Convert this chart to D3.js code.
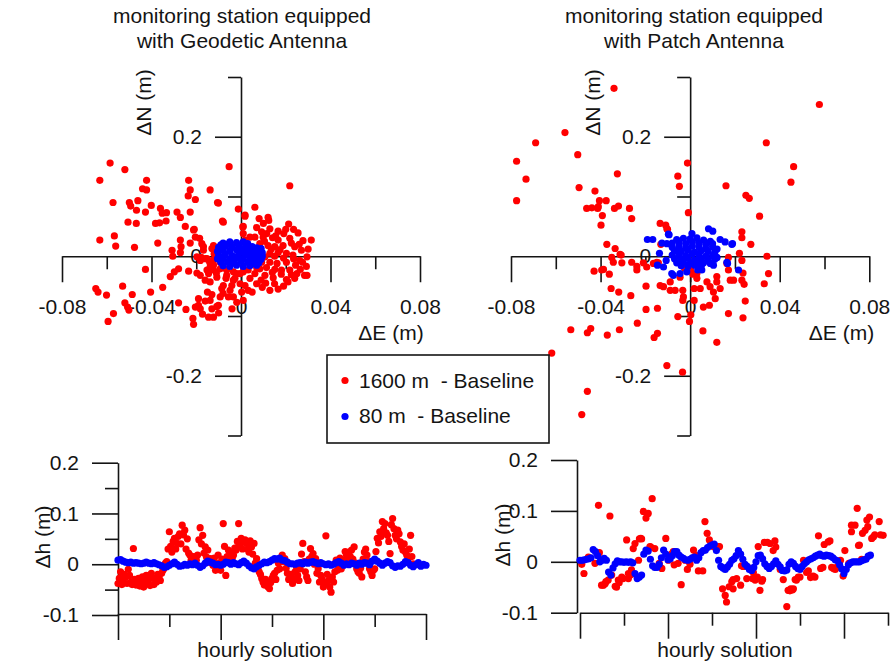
<!DOCTYPE html>
<html>
<head>
<meta charset="utf-8">
<script src="https://cdn.jsdelivr.net/npm/d3@7"></script>
<style>
  body { margin: 0; background: #fff; }
  svg text { font-family: "Liberation Sans", Arial, sans-serif; fill: #141414; }
</style>
</head>
<body>
<svg id="chart" width="892" height="665"></svg>
<script>
// ---------- axis ticks ----------
const enMajor = [-0.08, -0.04, 0, 0.04, 0.08];
const enMinor = [-0.06, -0.02, 0.02, 0.06];
const nMajor = [-0.2, 0, 0.2];
const nMinor = [-0.3, -0.1, 0.1, 0.3];
const dhMajor = [-0.1, 0, 0.1, 0.2];
const dhMinor = [-0.05, 0.05, 0.15];
const hourMajorGeo = [0, 200, 400, 600];
const hourMinorGeo = [100, 300, 500];
const hourMajorPatch = [0, 200, 400, 600];
const hourMinorPatch = [100, 300, 500, 700];

// ---------- titles / labels ----------
const titles = [
  ["monitoring station equipped", "with Geodetic Antenna"],
  ["monitoring station equipped", "with Patch Antenna"]
];
const legendLabels = ["1600 m  - Baseline", "80 m  - Baseline"];

// ---------- planimetric offsets [ΔE, ΔN] (m), geodetic antenna ----------
const geodeticRed = [
  [-0.0585,0.156],[-0.0519,0.145],[-0.0631,0.127],[-0.0422,0.127],[-0.0234,0.127],[-0.0053,0.150],[-0.0440,0.113],[-0.0422,0.111],[-0.0227,0.111],[-0.0138,0.111],
  [-0.0572,0.090],[-0.0499,0.090],[-0.0461,0.093],[-0.0401,0.085],[-0.0493,0.084],[-0.0467,0.077],[-0.0427,0.074],[-0.0360,0.080],[-0.0352,0.072],[-0.0333,0.073],
  [-0.0236,0.101],[-0.0204,0.095],[-0.0227,0.074],[-0.0286,0.074],[-0.0271,0.065],[-0.0105,0.090],[-0.0012,0.079],[-0.0505,0.057],[-0.0468,0.055],[-0.0382,0.055],
  [-0.0364,0.056],[-0.0335,0.059],[-0.0249,0.050],[-0.0209,0.045],[-0.0083,0.059],[0.0018,0.067],[0.0008,0.049],[-0.0631,0.027],[-0.0566,0.034],[-0.0560,0.017],
  [-0.0476,0.015],[-0.0372,0.022],[-0.0271,0.027],[-0.0268,0.016],[-0.0227,0.022],[-0.0185,0.030],[-0.0168,0.016],[-0.0130,0.013],[-0.0308,0.010],[-0.0305,0.000],
  [-0.0271,0.006],[-0.0178,-0.002],[-0.0152,-0.004],[-0.0123,-0.006],[-0.0427,-0.022],[-0.0316,-0.034],[-0.0298,-0.026],[-0.0279,-0.021],[-0.0234,-0.025],[-0.0197,-0.028],
  [-0.0145,-0.029],[-0.0123,-0.023],[-0.0093,-0.021],[-0.0649,-0.054],[-0.0639,-0.060],[-0.0601,-0.065],[-0.0529,-0.050],[-0.0486,-0.064],[-0.0404,-0.060],[-0.0350,-0.052],
  [-0.0519,-0.078],[-0.0507,-0.085],[-0.0570,-0.096],[-0.0594,-0.109],[-0.0279,-0.078],[-0.0246,-0.089],[-0.0204,-0.085],[-0.0190,-0.071],[-0.0215,-0.104],[-0.0212,-0.114],
  [-0.0172,-0.097],[-0.0145,-0.102],[-0.0123,-0.102],[-0.0130,-0.064],[-0.0101,-0.082],[-0.0093,-0.068],[-0.0056,-0.068],[-0.0034,-0.068],[-0.0019,-0.077],[-0.0079,-0.049],
  [-0.0067,-0.037],[-0.0041,-0.049],[-0.0027,-0.037],[-0.0004,-0.046],[0.0003,-0.060],[-0.0138,-0.043],[-0.0108,-0.035],[-0.0123,-0.015],[-0.0093,-0.010],[-0.0064,-0.023],
  [-0.0034,-0.026],[-0.0004,-0.029],[-0.0501,-0.090],[-0.0182,-0.088],[-0.0108,-0.084],
  [-0.0160,-0.040],[-0.0080,-0.062],[-0.0040,-0.088],[-0.0160,-0.075],[-0.0100,-0.095],[-0.0120,0.004],[-0.0140,-0.010],[-0.0110,-0.028],
  [0.0062,0.082],[0.0018,0.069],[0.0081,0.063],[0.0124,0.060],[0.0010,0.050],[0.0070,0.048],[0.0129,0.046],[0.0213,0.054],[0.0166,0.042],[0.0191,0.038],
  [0.0255,0.039],[0.0314,0.027],[0.0277,0.026],[0.0218,0.030],[0.0141,0.031],[0.0084,0.021],[0.0121,0.018],[0.0151,0.016],[0.0188,0.018],[0.0240,0.016],
  [0.0270,0.010],[0.0295,-0.001],[0.0262,-0.007],[0.0232,0.002],[0.0203,0.005],[0.0166,0.006],[0.0129,0.005],[0.0107,-0.001],[0.0129,-0.010],[0.0161,-0.012],
  [0.0203,-0.010],[0.0244,-0.015],[0.0292,-0.017],[0.0295,-0.032],[0.0250,-0.029],[0.0218,-0.023],[0.0181,-0.023],[0.0151,-0.022],[0.0114,-0.019],[0.0084,-0.021],
  [0.0107,-0.032],[0.0144,-0.036],[0.0203,-0.039],[0.0240,-0.037],[0.0284,-0.032],[0.0129,-0.057],[0.0166,-0.055],[0.0210,-0.043],[0.0062,-0.029],[0.0040,-0.037],
  [0.0018,-0.049],[0.0070,-0.046],[0.0032,-0.057],[-0.0034,-0.040],[-0.0064,-0.032],[-0.0138,-0.018],[-0.0079,-0.019],[-0.0019,-0.029],[0.0010,-0.026],[0.0032,-0.023],
  [0.0070,-0.019],[0.0092,-0.010],[-0.0086,-0.054],[-0.0049,-0.057],[0.0010,-0.074],[-0.0190,-0.082],[-0.0138,-0.074],[-0.0130,-0.088],[-0.0150,-0.060],[-0.0182,-0.032],
  [-0.0152,-0.023],[-0.0160,-0.004],[-0.0182,-0.007],[-0.0197,-0.001],[-0.0108,0.010],[-0.0123,0.018],[-0.0086,0.013],[-0.0168,0.010],[-0.0175,0.021],[-0.0212,0.044],
  [-0.0204,0.032],[0.0010,0.038],[0.0018,0.027],[0.0040,0.032],[0.0062,0.032],[0.0099,0.032],[0.0092,0.041],[0.0166,0.027],[-0.0079,0.057],[-0.0101,0.089],
  [0.0218,0.118],[0.0121,0.065],
  [0.0105,0.025],[0.0135,0.012],[0.0175,0.011],[0.0225,0.022],[0.0260,0.020],[0.0300,0.012],[0.0150,0.000],[0.0190,-0.003],[0.0235,-0.004],[0.0275,-0.010],
  [0.0140,-0.027],[0.0180,-0.030],[0.0225,-0.031],[0.0265,-0.022],[0.0110,-0.045],[0.0150,-0.046],[0.0190,-0.050],[0.0090,-0.040],[0.0050,-0.060],[0.0095,-0.052],
  [0.0115,0.038],[0.0155,0.034],[0.0200,0.045],[0.0235,0.045],[0.0100,0.055]
];
const geodeticBlue = [
  [-0.008,0.022],[-0.005,0.024],[-0.002,0.023],[0.001,0.024],[0.003,0.021],[-0.006,0.020],[-0.009,0.019],
  [-0.010,0.015],[-0.007,0.017],[-0.004,0.016],[-0.001,0.018],[0.002,0.015],[0.005,0.016],[0.007,0.014],[0.009,0.013],
  [-0.0105,0.008],[-0.008,0.010],[-0.005,0.009],[-0.002,0.011],[0.001,0.008],[0.004,0.010],[0.006,0.008],[0.008,0.009],[0.0095,0.006],[0.000,0.013],
  [-0.010,0.002],[-0.007,0.003],[-0.004,0.001],[-0.001,0.004],[0.002,0.002],[0.005,0.003],[0.007,0.001],[0.0095,0.000],[0.003,0.006],
  [-0.0105,-0.004],[-0.008,-0.003],[-0.005,-0.005],[-0.002,-0.002],[0.001,-0.004],[0.004,-0.003],[0.006,-0.006],[0.009,-0.005],[-0.003,-0.006],
  [-0.009,-0.010],[-0.006,-0.009],[-0.003,-0.011],[0.000,-0.008],[0.003,-0.010],[0.005,-0.012],[0.008,-0.011],
  [-0.008,-0.016],[-0.005,-0.017],[-0.002,-0.015],[0.001,-0.017],[0.004,-0.016],[0.007,-0.015]
];

// ---------- planimetric offsets [ΔE, ΔN] (m), patch antenna ----------
const patchRed = [
  [-0.0340,0.281],[-0.0559,0.207],[-0.0690,0.190],[-0.0775,0.159],[-0.0733,0.129],[-0.0775,0.093],[-0.0502,0.170],[-0.0325,0.138],[-0.0496,0.115],[-0.0425,0.109],
  [-0.0405,0.093],[-0.0375,0.093],[-0.0462,0.080],[-0.0439,0.081],[-0.0413,0.080],[-0.0392,0.068],[-0.0398,0.052],[-0.0338,0.080],[-0.0320,0.084],[-0.0271,0.080],
  [-0.0261,0.063],[-0.0012,0.156],[-0.0055,0.134],[-0.0048,0.117],[-0.0008,0.073],[-0.0134,0.055],[-0.0109,0.052],[-0.0372,0.020],[-0.0308,0.002],[-0.0350,-0.002],
  [-0.0343,-0.010],[-0.0305,-0.011],[-0.0261,-0.010],[-0.0209,-0.011],[-0.0387,-0.022],[-0.0142,-0.011],
  [0.0577,0.254],[0.0340,0.190],[0.0462,0.150],[0.0450,0.124],[0.0160,0.118],[0.0249,0.102],[0.0264,0.097],[0.0310,0.067],
  [-0.0335,0.013],[-0.0313,0.003],[-0.0238,-0.017],[-0.0238,-0.023],[-0.0194,-0.018],[-0.0164,-0.012],[-0.0149,-0.010],[-0.0429,-0.025],[-0.0395,-0.023],[-0.0361,-0.030],
  [-0.0353,-0.054],[-0.0319,-0.060],[-0.0265,-0.066],[-0.0197,-0.050],[-0.0134,-0.049],[-0.0119,-0.051],[-0.0089,-0.043],[-0.0045,-0.035],[-0.0067,-0.057],[-0.0033,-0.057],
  [-0.0089,-0.057],[-0.0030,-0.068],[-0.0131,0.020],[-0.0104,0.046],[0.0012,-0.030],[0.0030,-0.037],[0.0018,-0.054],[0.0045,-0.054],[0.0018,-0.074],[0.0059,-0.085],
  [0.0086,-0.082],[0.0075,-0.043],[0.0089,-0.051],[0.0104,-0.060],[0.0112,-0.071],[0.0134,-0.054],[0.0119,-0.034],[0.0119,-0.043],[0.0171,-0.023],[0.0179,-0.040],
  [0.0194,-0.040],[0.0231,-0.040],[0.0241,-0.047],[0.0236,-0.028],[0.0164,-0.012],[0.0171,-0.002],[0.0220,0.005],[0.0231,-0.007],[0.0231,0.041],[0.0231,0.031],
  [0.0271,0.020],[0.0343,0.000],[0.0350,-0.029],[0.0331,-0.046],[0.0246,-0.075],[0.0236,-0.103],[0.0171,-0.096],[0.0119,-0.144],[0.0057,-0.125],[0.0003,-0.098],
  [-0.0003,-0.109],[-0.0055,-0.101],[-0.0033,-0.074],[-0.0197,-0.089],[-0.0146,-0.087],[-0.0236,-0.112],[-0.0316,-0.123],[-0.0370,-0.132],[-0.0444,-0.121],[-0.0459,-0.128],
  [-0.0533,-0.123],[-0.0146,-0.129],[-0.0161,-0.136],[-0.0618,-0.162],[-0.0459,-0.226],[-0.0484,-0.265],[-0.0104,-0.183],[-0.0034,-0.194],[-0.0410,0.083],[-0.0101,0.045],
  [0.0003,-0.023],[0.0030,-0.029],[-0.0025,-0.020]
];
const patchBlue = [
  [-0.0191,0.028],[-0.0167,0.028],[0.0082,0.046],[0.0101,0.042],[0.0008,0.038],[-0.0097,0.037],[0.0186,0.020],[0.0156,0.024],[0.0134,0.028],[0.0216,-0.023],
  [0.0167,-0.012],[-0.0075,-0.032],[-0.0045,-0.029],[0.0052,-0.023],[-0.0137,0.005],[-0.0146,-0.015],[-0.0119,-0.018],[-0.0126,0.022],[-0.0107,-0.007],[-0.0094,0.036],
  [-0.0082,-0.029],[0.0189,0.021],[0.0164,-0.010],[0.0034,-0.023],[0.0104,-0.015],[-0.0015,-0.026],[-0.0104,0.021],
  [-0.006,0.028],[-0.003,0.030],[0.000,0.029],[0.003,0.031],[0.006,0.027],[0.009,0.025],
  [-0.008,0.022],[-0.005,0.023],[-0.002,0.021],[0.001,0.024],[0.004,0.022],[0.007,0.020],[0.010,0.021],
  [-0.008,0.015],[-0.005,0.016],[-0.002,0.014],[0.001,0.017],[0.004,0.015],[0.007,0.013],[0.010,0.016],[0.012,0.012],
  [-0.007,0.009],[-0.004,0.008],[-0.001,0.010],[0.002,0.007],[0.005,0.009],[0.008,0.008],[0.011,0.006],
  [-0.008,0.002],[-0.005,0.003],[-0.002,0.001],[0.001,0.004],[0.004,0.002],[0.007,0.000],[0.010,0.001],[0.012,-0.002],
  [-0.007,-0.004],[-0.004,-0.005],[-0.001,-0.003],[0.002,-0.006],[0.005,-0.004],[0.008,-0.007],[0.011,-0.005],
  [-0.006,-0.011],[-0.003,-0.010],[0.000,-0.012],[0.003,-0.009],[0.006,-0.011],[0.009,-0.012],
  [-0.004,-0.016],[-0.001,-0.017],[0.002,-0.015],[0.005,-0.016]
];

// ---------- height offsets Δh (m) per hourly solution ----------
// geodetic antenna, 1600 m baseline: one value every 2.5 hours
const geodeticRedDh = [
  -0.038,-0.028,-0.015,-0.040,-0.030,-0.020,-0.025,-0.038,-0.010,-0.022,-0.035,-0.040,
  0.031,-0.030,-0.041,-0.033,-0.028,-0.043,-0.035,-0.025,-0.045,-0.038,-0.022,-0.032,
  -0.030,-0.042,-0.018,-0.027,-0.040,-0.030,-0.035,-0.020,-0.025,-0.032,-0.018,-0.012,
  -0.008,0.002,
  0.005,0.030,0.064,0.035,0.024,0.045,0.051,0.030,0.041,0.055,0.060,0.040,0.077,0.058,
  0.067,0.030,0.050,0.022,0.018,0.008,0.011,0.015,0.001,0.008,
  0.018,0.048,0.072,0.040,0.057,0.022,0.034,0.014,0.028,0.004,
  0.011,0.006,-0.002,0.012,-0.012,-0.005,0.018,0.002,-0.012,0.010,
  0.080,0.035,-0.022,0.015,0.028,0.025,0.021,0.012,0.018,0.032,
  0.028,0.045,0.080,0.038,0.051,0.030,0.044,0.048,0.041,0.030,
  0.024,0.046,0.034,0.020,0.041,0.002,0.011,-0.008,-0.015,-0.020,
  -0.028,-0.035,-0.041,-0.030,-0.038,-0.045,-0.048,-0.036,-0.028,-0.022,
  -0.018,-0.030,-0.012,0.002,-0.009,0.010,0.018,0.005,0.011,-0.008,
  -0.018,-0.030,-0.028,-0.020,-0.038,-0.030,-0.015,-0.005,-0.022,-0.032,
  -0.009,0.020,0.041,0.005,-0.015,-0.025,-0.032,0.010,0.031,0.015,
  0.021,0.000,0.011,-0.018,-0.009,-0.035,-0.022,-0.030,-0.045,-0.040,
  0.056,-0.020,-0.032,-0.045,-0.055,-0.025,-0.035,-0.015,0.008,-0.012,
  -0.002,0.012,-0.009,0.004,0.008,0.025,0.018,0.010,0.024,0.015,
  0.028,0.010,0.034,0.002,-0.009,-0.015,-0.018,-0.008,-0.025,0.010,
  0.024,0.030,0.018,0.005,-0.009,-0.015,-0.022,-0.012,-0.009,0.025,
  0.051,0.042,0.064,0.055,0.084,0.070,0.080,0.062,0.057,0.045,
  0.021,0.078,0.090,0.070,0.057,0.050,0.067,0.060,0.044,0.035,
  0.028,0.040,0.024,0.018,0.011,0.030,0.057,0.015,0.001
];
// geodetic antenna, 80 m baseline: one value every 5 hours
const geodeticBlueDh = [
  0.008,0.009,0.006,0.004,0.003,0.004,0.002,0.003,0.002,0.001,
  0.002,0.004,0.002,0.001,0.003,0.001,-0.001,-0.003,-0.006,-0.005,
  -0.002,0.001,0.004,0.000,-0.004,-0.003,0.000,-0.002,0.001,-0.001,
  0.002,-0.002,-0.006,-0.003,0.002,0.006,0.004,0.002,-0.001,0.000,
  -0.002,0.000,0.004,0.003,0.000,0.003,0.001,-0.001,0.003,0.006,
  0.002,-0.003,-0.007,-0.009,-0.005,-0.002,0.001,0.004,0.003,0.005,
  0.008,0.011,0.010,0.012,0.008,0.007,0.004,0.001,0.001,0.000,
  0.002,0.003,0.001,0.004,0.002,0.004,0.005,0.003,0.001,0.003,
  0.001,-0.001,0.001,-0.002,0.000,0.003,0.005,0.002,-0.002,0.001,
  -0.001,0.002,0.001,-0.002,0.002,0.000,0.003,0.002,-0.001,0.006,
  0.010,0.006,0.002,-0.002,0.002,0.005,0.003,-0.003,-0.006,-0.003,
  -0.004,0.000,0.005,0.003,-0.002,-0.005,-0.001,0.003,-0.004,0.000,-0.002
];
// patch antenna, 1600 m baseline: [hour, Δh]
const patchRedDh = [
  [4,-0.005],[9,-0.023],[19,0.009],[34,-0.003],[42,0.111],[44,0.018],[49,-0.046],[53,-0.046],[57,-0.043],[59,-0.039],
  [64,-0.036],[68,0.090],[72,-0.026],[80,-0.048],[83,-0.050],[87,-0.036],[89,-0.041],[95,-0.030],[98,-0.033],[106,0.043],
  [110,-0.023],[110,-0.033],[116,-0.025],[117,-0.016],[121,0.026],[125,0.036],[133,0.003],[135,0.045],[138,0.046],[140,0.045],
  [144,0.099],[150,0.086],[155,0.095],[159,0.030],[161,0.029],[164,0.124],[170,0.026],[180,-0.003],[186,-0.013],[195,0.046],
  [201,0.003],[208,0.015],[212,0.020],[214,-0.006],[223,-0.003],[230,-0.045],[239,0.003],[244,-0.015],[250,-0.005],[258,0.023],
  [261,0.010],[265,0.012],[269,-0.018],[279,-0.018],[284,0.079],[289,0.056],[294,0.043],[303,0.030],[314,0.030],[317,0.030],
  [324,-0.053],[330,-0.066],[333,-0.079],[339,-0.049],[345,-0.039],[348,-0.053],[348,-0.035],[356,-0.033],[365,-0.046],[367,-0.008],
  [371,-0.009],[379,-0.033],[386,-0.013],[392,-0.033],[394,-0.021],[398,-0.036],[403,-0.030],[405,0.030],[409,-0.056],[413,-0.038],
  [415,-0.035],[419,0.038],[426,0.038],[432,0.036],[439,0.022],[443,0.041],[445,0.029],[455,-0.015],[462,-0.035],[470,-0.088],
  [473,-0.056],[477,-0.057],[479,-0.053],[483,-0.055],[485,-0.053],[489,-0.035],[492,-0.036],[496,-0.030],[500,-0.030],[508,0.003],
  [515,-0.021],[519,-0.018],[524,-0.031],[530,-0.028],[534,-0.030],[542,0.051],[547,-0.013],[552,-0.011],[555,0.034],[564,0.039],
  [568,0.041],[572,-0.011],[576,-0.013],[580,-0.015],[583,-0.011],[592,0.003],[598,-0.028],[602,0.022],[611,-0.003],[617,0.072],
  [617,0.059],[625,0.072],[630,0.105],[633,0.032],[635,0.033],[640,0.005],[642,0.056],[648,0.062],[652,0.082],[654,0.069],
  [658,0.088],[663,0.046],[667,0.049],[670,0.053],[680,0.079],[683,0.053],[689,0.052]
];
// patch antenna, 80 m baseline: one value every 5 hours
const patchBlueDh = [
  0.003,0.003,0.004,0.005,0.006,0.008,0.024,0.020,0.012,0.000,
  0.003,0.007,0.003,-0.020,-0.026,-0.012,-0.004,0.002,0.000,0.000,
  -0.001,0.000,-0.001,0.000,-0.002,-0.023,-0.033,-0.030,-0.026,0.015,
  0.023,0.021,0.005,-0.008,-0.011,-0.011,-0.005,0.008,0.023,0.015,
  0.004,0.006,0.012,0.020,0.020,0.013,0.009,0.007,0.004,0.003,
  0.005,0.008,0.009,0.003,0.008,0.018,0.022,0.023,0.028,0.031,
  0.033,0.035,0.022,0.003,-0.009,-0.012,-0.015,-0.010,-0.005,0.003,
  0.006,0.012,0.022,0.015,0.005,-0.005,-0.009,-0.015,-0.017,-0.011,
  0.000,0.012,0.013,0.006,-0.004,-0.009,-0.013,-0.009,-0.004,0.002,
  -0.005,-0.010,-0.017,-0.018,-0.016,-0.005,0.000,-0.003,-0.009,-0.013,
  -0.015,-0.009,-0.004,0.000,0.004,0.006,0.008,0.011,0.013,0.015,
  0.012,0.011,0.013,0.012,0.011,0.008,0.004,0.002,-0.006,-0.014,
  -0.023,-0.015,-0.006,-0.002,0.000,0.000,0.000,0.000,0.002,0.004,
  0.005,0.011,0.013
];
const redStepHours = 2.5;
const blueStepHours = 5;

// ---------- drawing ----------
const svg = d3.select("#chart");
const ink = "#141414";
const RED = "#ff0000", BLUE = "#0000ff";
const R = 3.6;
const FONT = 21;
const fmt = d => String(d);

function styleAxis(g) {
  g.attr("font-size", null).attr("font-family", null);
  g.selectAll(".domain, .tick line").attr("stroke", ink).attr("stroke-width", 1.6);
  g.selectAll(".tick text").attr("font-size", FONT).attr("fill", ink);
}

function dots(layer, data, x, y, color) {
  layer.append("g").selectAll("circle").data(data).join("circle")
    .attr("cx", d => x(d[0])).attr("cy", d => y(d[1]))
    .attr("r", R).attr("fill", color);
}

function scatterPanel(p) {
  const x = d3.scaleLinear().domain([-0.08, 0.08]).range(p.xRange);
  const y = d3.scaleLinear().domain([-0.3, 0.3]).range([435.5, 77]);
  const g = svg.append("g");

  g.append("g").attr("transform", `translate(0,${y(0)})`)
    .call(d3.axisBottom(x).tickValues(enMajor).tickSize(26).tickSizeOuter(0).tickPadding(17).tickFormat(fmt))
    .call(styleAxis);
  g.append("g").attr("transform", `translate(0,${y(0)})`)
    .call(d3.axisBottom(x).tickValues(enMinor).tickSize(13).tickFormat(""))
    .call(styleAxis).call(a => a.select(".domain").remove());
  g.append("g").attr("transform", `translate(${x(0)},0)`)
    .call(d3.axisLeft(y).tickValues(nMajor).tickSize(26).tickSizeOuter(0).tickPadding(13).tickFormat(fmt))
    .call(styleAxis);
  g.append("g").attr("transform", `translate(${x(0)},0)`)
    .call(d3.axisLeft(y).tickValues(nMinor).tickSize(13).tickFormat(""))
    .call(styleAxis).call(a => a.select(".domain").remove());

  g.append("text").attr("x", p.eLabel[0]).attr("y", p.eLabel[1])
    .attr("text-anchor", "middle").attr("font-size", FONT).text("ΔE (m)");
  g.append("text").attr("transform", `translate(${p.nLabel[0]},${p.nLabel[1]}) rotate(-90)`)
    .attr("text-anchor", "middle").attr("font-size", FONT).text("ΔN (m)");

  const t = g.append("text").attr("text-anchor", "middle").attr("font-size", FONT);
  t.append("tspan").attr("x", p.titleX).attr("y", 23).text(p.title[0]);
  t.append("tspan").attr("x", p.titleX).attr("y", 48).text(p.title[1]);

  dots(g, p.red, x, y, RED);
  dots(g, p.blue, x, y, BLUE);
}

function seriesPanel(p) {
  const x = d3.scaleLinear().domain([0, p.hourMax]).range(p.xRange);
  const y = d3.scaleLinear().domain([-0.1, 0.2]).range(p.yRange);
  const g = svg.append("g");

  g.append("g").attr("transform", `translate(${p.yAxisX},0)`)
    .call(d3.axisLeft(y).tickValues(dhMajor).tickSize(26).tickSizeOuter(0).tickPadding(13).tickFormat(fmt))
    .call(styleAxis);
  if (p.minorDh) {
    g.append("g").attr("transform", `translate(${p.yAxisX},0)`)
      .call(d3.axisLeft(y).tickValues(p.minorDh).tickSize(13).tickFormat(""))
      .call(styleAxis).call(a => a.select(".domain").remove());
  }
  g.append("g").attr("transform", `translate(0,${p.xAxisY})`)
    .call(d3.axisBottom(x).tickValues(p.hourMajor).tickSize(26).tickSizeOuter(0).tickFormat(""))
    .call(styleAxis);
  g.append("g").attr("transform", `translate(0,${p.xAxisY})`)
    .call(d3.axisBottom(x).tickValues(p.hourMinor).tickSize(13).tickFormat(""))
    .call(styleAxis).call(a => a.select(".domain").remove());

  g.append("text").attr("x", p.hLabelX).attr("y", 657)
    .attr("text-anchor", "middle").attr("font-size", FONT).text("hourly solution");
  g.append("text").attr("transform", `translate(${p.dhLabel[0]},${p.dhLabel[1]}) rotate(-90)`)
    .attr("text-anchor", "middle").attr("font-size", FONT).text("Δh (m)");

  dots(g, p.red, x, y, RED);
  dots(g, p.blue, x, y, BLUE);
}

scatterPanel({
  xRange: [62, 420], eLabel: [391, 339.5], nLabel: [151, 102.5],
  titleX: 242, title: titles[0], red: geodeticRed, blue: geodeticBlue
});
scatterPanel({
  xRange: [511, 869.3], eLabel: [841.5, 339.5], nLabel: [599.5, 102.5],
  titleX: 694, title: titles[1], red: patchRed, blue: patchBlue
});

seriesPanel({
  hourMax: 600, xRange: [118, 426], yRange: [615, 462.7], yAxisX: 118, xAxisY: 614,
  minorDh: dhMinor, hourMajor: hourMajorGeo, hourMinor: hourMinorGeo,
  hLabelX: 265, dhLabel: [50, 537],
  red: geodeticRedDh.map((v, i) => [i * redStepHours, v]),
  blue: geodeticBlueDh.map((v, i) => [i * blueStepHours, v])
});
seriesPanel({
  hourMax: 700, xRange: [580, 888], yRange: [612.7, 460], yAxisX: 577, xAxisY: 612.7,
  minorDh: null, hourMajor: hourMajorPatch, hourMinor: hourMinorPatch,
  hLabelX: 725, dhLabel: [510, 535],
  red: patchRedDh,
  blue: patchBlueDh.map((v, i) => [i * blueStepHours, v])
});

// ---------- legend ----------
const legend = svg.append("g");
legend.append("rect").attr("x", 327).attr("y", 355).attr("width", 222).attr("height", 88)
  .attr("fill", "#fff").attr("stroke", ink).attr("stroke-width", 1.6);
[[RED, 380.5, 388], [BLUE, 416.5, 423]].forEach(([c, cy, by], i) => {
  legend.append("circle").attr("cx", 345).attr("cy", cy).attr("r", R).attr("fill", c);
  legend.append("text").attr("x", 359).attr("y", by).attr("font-size", FONT)
    .style("white-space", "pre").text(legendLabels[i]);
});
</script>
</body>
</html>
